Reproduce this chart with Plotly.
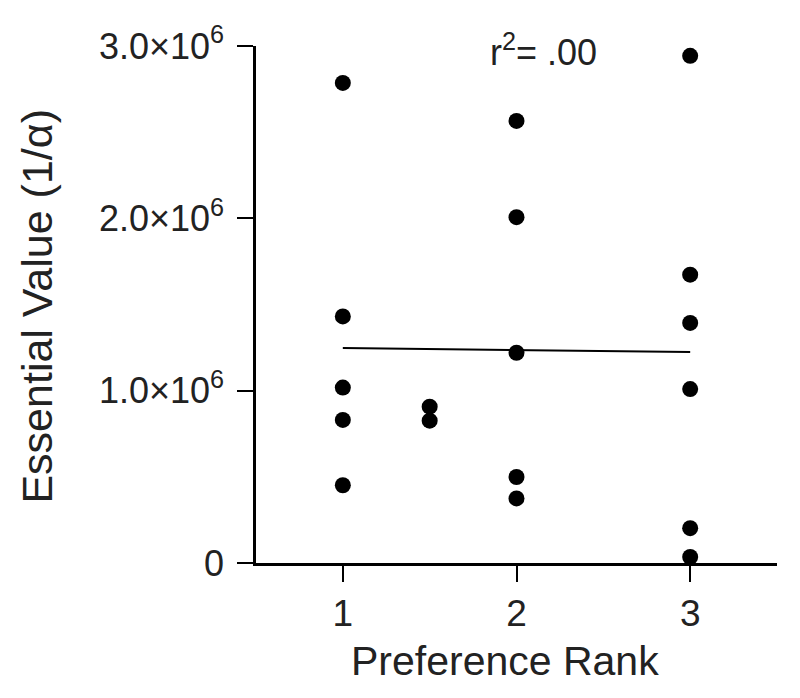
import plotly.graph_objects as go

# Preference rank (x) and essential value (y) per subject
rank = [1, 1, 1, 1, 1,
        1.5, 1.5,
        2, 2, 2, 2, 2,
        3, 3, 3, 3, 3, 3]
essential_value = [2.786e6, 1.431e6, 1.018e6, 0.830e6, 0.451e6,
                   0.907e6, 0.826e6,
                   2.565e6, 2.007e6, 1.220e6, 0.499e6, 0.375e6,
                   2.943e6, 1.673e6, 1.393e6, 1.009e6, 0.202e6, 0.035e6]

# fitted regression line endpoints
fit_x = [1, 3]
fit_y = [1.248e6, 1.224e6]

y_tickvals = [0, 1e6, 2e6, 3e6]
y_ticktext = ["0", "1.0×10<sup>6</sup>", "2.0×10<sup>6</sup>", "3.0×10<sup>6</sup>"]
x_tickvals = [1, 2, 3]

font_family = "Arial, Liberation Sans, sans-serif"
ink = "#222"

fig = go.Figure()
fig.add_trace(go.Scatter(x=fit_x, y=fit_y, mode="lines",
                         line=dict(color="black", width=2), showlegend=False))
fig.add_trace(go.Scatter(x=rank, y=essential_value, mode="markers",
                         marker=dict(color="black", size=16), showlegend=False,
                         cliponaxis=False))

fig.add_annotation(x=2.156, y=2.976e6, text="r<sup>2</sup>= .00", showarrow=False,
                   font=dict(size=36, color=ink), xanchor="center", yanchor="middle")

# axis titles placed as annotations so they sit where the original has them
fig.add_annotation(xref="paper", yref="paper", x=0.477, y=0, yshift=-98,
                   text="Preference Rank", showarrow=False,
                   font=dict(size=41, color=ink), xanchor="center", yanchor="middle")
fig.add_annotation(xref="paper", yref="paper", x=0, xshift=-219, y=0.496,
                   text="Essential Value (1/α)", textangle=-90, showarrow=False,
                   font=dict(size=43, color=ink), xanchor="center", yanchor="middle")

fig.update_xaxes(range=[0.5, 3.5], tickvals=x_tickvals, showline=True, linewidth=2.5,
                 linecolor="black", ticks="outside", ticklen=16, tickwidth=2,
                 tickcolor="black", showgrid=False, zeroline=False,
                 tickfont=dict(size=37, color=ink))
fig.update_yaxes(range=[0, 3e6], tickvals=y_tickvals, ticktext=y_ticktext, showline=True,
                 linewidth=2.5, linecolor="black", ticks="outside", ticklen=16,
                 tickwidth=2, tickcolor="black", showgrid=False, zeroline=False,
                 tickfont=dict(size=36, color=ink), ticklabelstandoff=6)
fig.update_layout(
    width=784, height=682,
    margin=dict(l=248, r=15, t=35, b=127),
    plot_bgcolor="white", paper_bgcolor="white",
    font=dict(family=font_family, color=ink),
)
fig.write_html("out.html")
